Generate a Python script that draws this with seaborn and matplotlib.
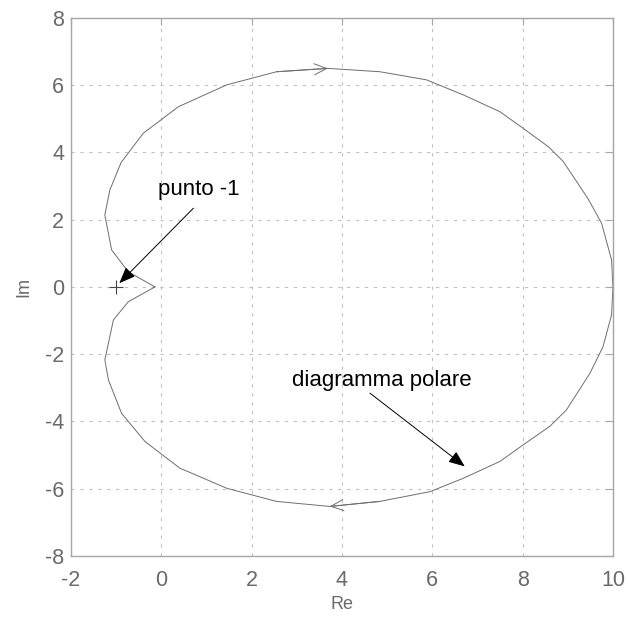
import matplotlib
matplotlib.use("Agg")
import matplotlib.pyplot as plt
import seaborn as sns
import pandas as pd

# Polar (Nyquist) diagram vertices, traced from the origin through the
# upper half (negative frequencies), round (10, 0), and back along the lower half.
re_vals = [-0.14, -0.73, -1.10, -1.25, -1.14, -0.89, -0.40, 0.38, 1.45, 2.55,
           3.69, 4.84, 5.87, 6.69, 7.50, 8.01, 8.57, 8.90, 9.45, 9.75, 9.97,
           10.00,
           9.97, 9.78, 9.49, 8.97, 8.60, 8.01, 7.50, 6.69, 5.95, 4.84, 3.73,
           2.55, 1.45, 0.41, -0.36, -0.88, -1.17, -1.25, -1.06, -0.73, -0.14]
im_vals = [0.00, 0.45, 1.10, 2.14, 2.88, 3.70, 4.57, 5.36, 6.01, 6.40,
           6.50, 6.40, 6.16, 5.71, 5.21, 4.72, 4.17, 3.73, 2.62, 1.89, 0.80,
           0.00,
           -0.83, -1.78, -2.57, -3.66, -4.15, -4.70, -5.19, -5.69, -6.09, -6.38,
           -6.53, -6.38, -5.99, -5.39, -4.60, -3.76, -2.77, -2.17, -0.98, -0.44,
           0.00]

# direction arrows on the curve: (index of the arrow tip, index of the point behind it)
direction_marks = [(10, 9), (32, 31)]

# critical point -1
critical_re = [-1.0]
critical_im = [0.0]

# annotations: text, text anchor, arrow tail, arrow tip
labels = ["punto -1", "diagramma polare"]
label_xy = [(-0.07, 2.74), (2.89, -2.94)]
arrow_tail = [(0.71, 2.34), (4.62, -3.16)]
arrow_tip = [(-0.93, 0.11), (6.72, -5.34)]

x_ticks = [-2, 0, 2, 4, 6, 8, 10]
y_ticks = [-8, -6, -4, -2, 0, 2, 4, 6, 8]

sns.set_style("white")
plt.rcParams["font.family"] = ["Liberation Sans", "DejaVu Sans"]
plt.rcParams["axes.unicode_minus"] = False

fig = plt.figure(figsize=(6.28, 6.19), dpi=100)
ax = fig.add_axes([0.113, 0.102, 0.863, 0.869])

df = pd.DataFrame({"Re": re_vals, "Im": im_vals})
curve_color = "#6e6e6e"
sns.lineplot(data=df, x="Re", y="Im", sort=False, estimator=None,
             color=curve_color, linewidth=0.7, ax=ax)

for tip, prev in direction_marks:
    ax.annotate("", xy=(re_vals[tip], im_vals[tip]),
                xytext=(re_vals[prev], im_vals[prev]),
                arrowprops=dict(arrowstyle="->,head_length=0.9,head_width=0.4",
                                color=curve_color, lw=0.7, shrinkA=0, shrinkB=0,
                                mutation_scale=10))

ax.plot(critical_re, critical_im, linestyle="none", marker="+", markersize=10,
        markeredgewidth=0.8, color="#444444")

for text, pos, tail, tip in zip(labels, label_xy, arrow_tail, arrow_tip):
    ax.text(pos[0], pos[1], text, fontsize=16, color="black",
            ha="left", va="baseline")
    ax.annotate("", xy=tip, xytext=tail,
                arrowprops=dict(arrowstyle="-|>,head_length=1.0,head_width=0.4",
                                color="black", lw=0.7, shrinkA=0, shrinkB=0,
                                mutation_scale=10))

ax.set_xlim(-2, 10)
ax.set_ylim(-8, 8)
ax.set_xticks(x_ticks)
ax.set_yticks(y_ticks)

ax.grid(True, color="#c2c2c2", linestyle=(0, (3, 5)), linewidth=0.8)
ax.set_axisbelow(True)

for spine in ax.spines.values():
    spine.set_visible(True)
    spine.set_color("#a6a6a6")
    spine.set_linewidth(1.0)

ax.tick_params(axis="both", direction="in", length=5, width=0.8,
               color="#a6a6a6", labelsize=15.5, labelcolor="#6a6a6a")
ax.tick_params(axis="x", pad=10)
ax.tick_params(axis="y", pad=5)
ax.tick_params(top=True, right=True)

ax.set_xlabel("Re", fontsize=13, color="#6a6a6a", labelpad=4)
ax.set_ylabel("Im", fontsize=13, color="#6a6a6a", labelpad=9)

fig.savefig("out.png", dpi=100, facecolor="white")
